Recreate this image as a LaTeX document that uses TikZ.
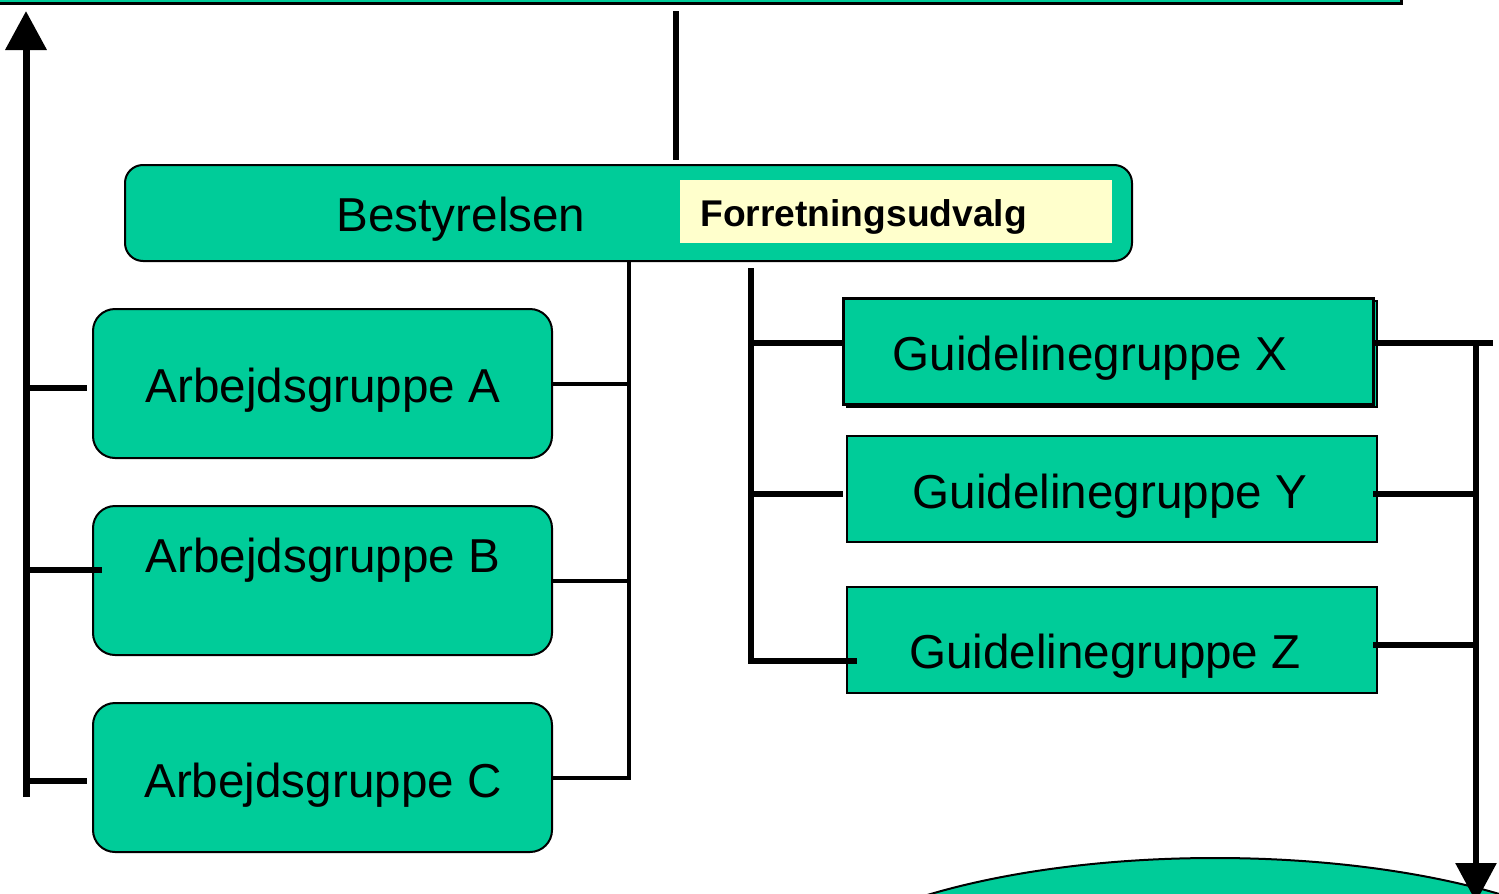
\documentclass[tikz,border=0pt]{standalone}
\usepackage{fontspec}
\setmainfont{Liberation Sans}
\usetikzlibrary{arrows.meta,shapes.geometric}
\definecolor{boxgreen}{RGB}{0,204,153}
\definecolor{paleyellow}{RGB}{255,255,204}
\begin{document}
\begin{tikzpicture}[x=0.5pt,y=-0.5pt,
  gbox/.style={draw=black, line width=1pt, fill=boxgreen, rounded corners=11pt, inner sep=0pt},
  rbox/.style={draw=black, line width=1pt, fill=boxgreen, inner sep=0pt, minimum width=265pt, minimum height=53pt},
  lbl/.style={font=\fontsize{23.8}{28}\selectfont, inner sep=0pt, anchor=base},
  conn/.style={line width=3pt},
  thinconn/.style={line width=2pt},
  bigtip/.style={-{Triangle[width=20pt,length=19.5pt]}}]
\useasboundingbox (0,0) rectangle (1499,894);
% top bar (cut off by the page edge)
\node[draw=black, line width=1.5pt, fill=boxgreen, minimum width=706pt, minimum height=50pt, inner sep=0pt] (top) at (695,-47) {};
% bottom ellipse (cut off)
\node[ellipse, draw=black, line width=1pt, fill=boxgreen, minimum width=440pt, minimum height=152pt, inner sep=0pt] (ell) at (1215,1010) {};
% Bestyrelsen
\node[gbox, rounded corners=9pt, minimum width=503.5pt, minimum height=48pt] (best) at (628.5,213) {};
\node[lbl] (bestlbl) at (461,231) {Bestyrelsen};
\node[fill=paleyellow, inner sep=0pt, minimum width=216pt, minimum height=31.5pt] (fu) at (896,211.5) {};
\node[font=\bfseries\fontsize{18.6}{22}\selectfont, inner sep=0pt, anchor=base west] (fulbl) at (700,226) {Forretningsudvalg};
% Arbejdsgrupper
\node[gbox, minimum width=229.5pt, minimum height=74.5pt] (A) at (322.5,383.5) {};
\node[gbox, minimum width=229.5pt, minimum height=74.5pt] (B) at (322.5,580.5) {};
\node[gbox, minimum width=229.5pt, minimum height=74.5pt] (C) at (322.5,777.5) {};
\node[lbl] (Albl) at (323,402) {Arbejdsgruppe A};
\node[lbl] (Blbl) at (323,572) {Arbejdsgruppe B};
\node[lbl] (Clbl) at (323,797) {Arbejdsgruppe C};
% Guidelinegrupper
\node[rbox] (Xs) at (1112,354) {};
\node[rbox, line width=1.5pt] (X) at (1108,351) {};
\node[rbox] (Y) at (1112,489) {};
\node[rbox] (Z) at (1112,640) {};
\node[lbl] (Xlbl) at (1090,370) {Guidelinegruppe X};
\node[lbl] (Ylbl) at (1110,508) {Guidelinegruppe Y};
\node[lbl] (Zlbl) at (1105,668) {Guidelinegruppe Z};
% top connector
\coordinate (tv0) at (676,11);
\coordinate (tv1) at (676,160);
\draw[conn] (tv0) -- (tv1);
% left return arrow
\coordinate (la0) at (26,797);
\coordinate (la1) at (26,11);
\draw[line width=3.5pt, bigtip] (la0) -- (la1);
\coordinate (sa) at (87,388);
\coordinate (sb) at (102,570);
\coordinate (sc) at (87,781);
\draw[conn] (sa -| la0) -- (sa);
\draw[conn] (sb -| la0) -- (sb);
\draw[conn] (sc -| la0) -- (sc);
% Bestyrelsen to Arbejdsgrupper
\coordinate (bd) at (629,261);
\draw[thinconn] (bd) |- (C.east);
\draw[thinconn] (A.east) -- (A.east -| bd);
\draw[thinconn] (B.east) -- (B.east -| bd);
% Bestyrelsen to Guidelinegrupper
\coordinate (gd) at (751,268);
\coordinate (gx) at (843,343);
\coordinate (gy) at (843,494);
\coordinate (gz) at (857,661);
\draw[conn] (gd) |- (gz);
\draw[conn] (gx -| gd) -- (gx);
\draw[conn] (gy -| gd) -- (gy);
% right side down arrow
\coordinate (rxs) at (1373,343);
\coordinate (rx) at (1493,343);
\coordinate (rv) at (1476,343);
\coordinate (rend) at (1476,902);
\coordinate (ry) at (1373,494);
\coordinate (rz) at (1373,645);
\draw[conn] (rxs) -- (rx);
\draw[conn] (ry) -- (ry -| rv);
\draw[conn] (rz) -- (rz -| rv);
\draw[conn, bigtip] (rv) -- (rend);
\end{tikzpicture}
\end{document}
